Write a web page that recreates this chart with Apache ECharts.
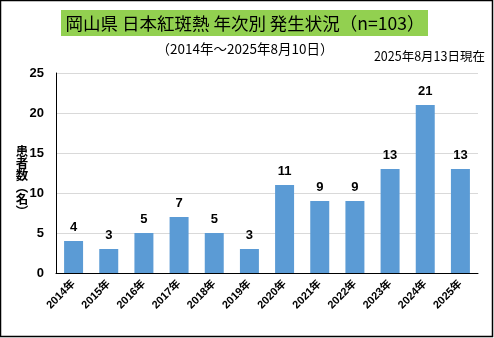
<!DOCTYPE html>
<html>
<head>
<meta charset="utf-8">
<script src="https://cdn.jsdelivr.net/npm/echarts@6/dist/echarts.min.js"></script>
<style>
html,body{margin:0;padding:0;background:#fff;}
#chart{width:494px;height:338px;}
</style>
</head>
<body>
<div id="chart"></div>
<script>
// 年次別の患者数（岡山県 日本紅斑熱）
const years = ['2014年','2015年','2016年','2017年','2018年','2019年','2020年','2021年','2022年','2023年','2024年','2025年'];
const cases = [4, 3, 5, 7, 5, 3, 11, 9, 9, 13, 21, 13];
const yTicks = [0, 5, 10, 15, 20, 25];
const yName = ['患', '者', '数', '︵', '名', '︶'];

const FONT = '"Liberation Sans", "Noto Sans CJK JP", sans-serif';
const JP = '"Noto Sans CJK JP", sans-serif';

// 縦書きの軸名は1文字ずつ配置する
const yNameChars = yName.map((ch, i) => ({
  type: 'text', x: 22, y: 151 + i * 12,
  style: {text: ch, fill: '#000', fontSize: 12.5, fontWeight: 'bold', fontFamily: JP, align: 'center', verticalAlign: 'middle'}
}));

const chart = echarts.init(document.getElementById('chart'), null, {renderer: 'canvas'});
chart.setOption({
  animation: false,
  backgroundColor: '#ffffff',
  grid: {left: 56, right: 16, top: 73, bottom: 65, containLabel: false},
  xAxis: {
    type: 'category',
    data: years,
    axisLine: {lineStyle: {color: '#000', width: 1}},
    axisTick: {show: false},
    axisLabel: {rotate: 45, interval: 0, fontSize: 11, fontWeight: 'bold', color: '#000', fontFamily: FONT, margin: 9}
  },
  yAxis: {
    type: 'value',
    min: yTicks[0],
    max: yTicks[yTicks.length - 1],
    interval: 5,
    axisLine: {show: true, lineStyle: {color: '#000', width: 1}},
    axisTick: {show: false},
    splitLine: {lineStyle: {color: '#d9d9d9', width: 1}},
    axisLabel: {fontSize: 13, fontWeight: 'bold', color: '#000', fontFamily: FONT, margin: 12}
  },
  series: [{
    type: 'bar',
    data: cases,
    barWidth: '54%',
    itemStyle: {color: '#5b9bd5'},
    label: {show: true, position: 'top', distance: 7, fontSize: 13, fontWeight: 'bold', color: '#000', fontFamily: FONT}
  }],
  graphic: [
    {type: 'rect', shape: {x: 0.5, y: 0.5, width: 492, height: 336}, style: {fill: 'none', stroke: '#000', lineWidth: 1.5}, silent: true},
    {type: 'rect', shape: {x: 61, y: 10, width: 367, height: 26}, style: {fill: '#92d050'}, silent: true},
    {type: 'text', x: 245, y: 23, style: {text: '岡山県 日本紅斑熱 年次別 発生状況（n=103）', fill: '#000', fontSize: 17.5, fontFamily: JP, align: 'center', verticalAlign: 'middle'}},
    {type: 'text', x: 245, y: 49, style: {text: '（2014年～2025年8月10日）', fill: '#000', fontSize: 13.5, fontFamily: JP, align: 'center', verticalAlign: 'middle'}},
    {type: 'text', x: 485, y: 56, style: {text: '2025年8月13日現在', fill: '#000', fontSize: 12.5, fontFamily: JP, align: 'right', verticalAlign: 'middle'}}
  ].concat(yNameChars)
});
</script>
</body>
</html>
